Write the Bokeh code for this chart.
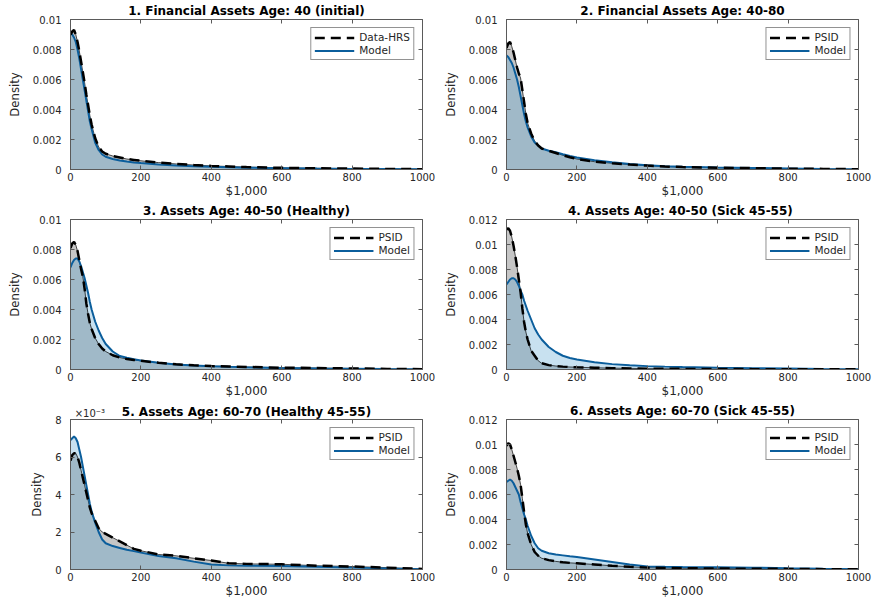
from bokeh.plotting import figure
from bokeh.layouts import gridplot
from bokeh.models import Range1d, FixedTicker, LinearAxis, Legend, LegendItem
from bokeh.embed import file_html
from bokeh.resources import INLINE

# ---------------- data ----------------
X = [0, 5, 10, 15, 20, 25, 30, 35, 40, 45, 50, 55, 60, 70, 80, 90, 100,
     120, 140, 160, 180, 200, 250, 300, 350, 400, 450, 500, 600, 700, 800, 900, 1000]

TITLES = [
    "1. Financial Assets Age: 40 (initial)",
    "2. Financial Assets Age: 40-80",
    "3. Assets Age: 40-50 (Healthy)",
    "4. Assets Age: 40-50 (Sick  45-55)",
    "5. Assets Age: 60-70 (Healthy 45-55)",
    "6. Assets Age: 60-70 (Sick 45-55)",
]
DATA_NAMES = ["Data-HRS", "PSID", "PSID", "PSID", "PSID", "PSID"]
MODEL_NAME = "Model"

data1 = [0.0090, 0.0092, 0.0093, 0.0090, 0.0085, 0.0079, 0.0072, 0.0065, 0.0058, 0.0050, 0.0043, 0.0036, 0.0030,
         0.0021, 0.0015, 0.0012, 0.00105, 0.0009, 0.0008, 0.0007, 0.00064, 0.00058, 0.00046, 0.00037, 0.0003,
         0.00024, 0.0002, 0.00016, 0.00011, 0.00008, 0.00006, 0.00004, 0.00002]
model1 = [0.0091, 0.0090, 0.0088, 0.0085, 0.0080, 0.0074, 0.0067, 0.0060, 0.0053, 0.0046, 0.0039, 0.0032, 0.0027,
          0.0018, 0.0013, 0.0010, 0.00085, 0.0007, 0.0006, 0.00053, 0.00047, 0.00043, 0.00034, 0.00027, 0.00022,
          0.00018, 0.00015, 0.00012, 0.00009, 0.00006, 0.00004, 0.00003, 0.00002]

data2 = [0.0081, 0.0084, 0.0085, 0.0082, 0.0078, 0.0073, 0.0068, 0.0064, 0.0061, 0.0053, 0.0045, 0.0037, 0.0031,
         0.0024, 0.0019, 0.0016, 0.0014, 0.00125, 0.0011, 0.00095, 0.00082, 0.0007, 0.00052, 0.00042, 0.00033,
         0.00026, 0.0002, 0.00016, 0.00012, 0.00009, 0.00006, 0.00004, 0.00002]
model2 = [0.0076, 0.0075, 0.0073, 0.0071, 0.0068, 0.0064, 0.0060, 0.0055, 0.0049, 0.0043, 0.0037, 0.0032, 0.0028,
          0.0022, 0.0018, 0.0016, 0.0014, 0.00125, 0.00115, 0.00102, 0.0009, 0.0008, 0.00062, 0.00048, 0.00036,
          0.00028, 0.00022, 0.00018, 0.00013, 0.0001, 0.00007, 0.00004, 0.00002]

data3 = [0.0081, 0.0084, 0.0085, 0.0083, 0.0079, 0.0073, 0.0067, 0.0062, 0.0054, 0.0044, 0.0037, 0.0031, 0.0027,
         0.0021, 0.0017, 0.0014, 0.0012, 0.00095, 0.0008, 0.0007, 0.00064, 0.00058, 0.00045, 0.00035, 0.00028,
         0.00023, 0.0002, 0.00017, 0.00012, 0.0001, 0.00007, 0.00004, 0.00002]
model3 = [0.0068, 0.0071, 0.0073, 0.0074, 0.0074, 0.0072, 0.0069, 0.0065, 0.0061, 0.0056, 0.0051, 0.0045, 0.0040,
          0.0032, 0.0026, 0.0021, 0.0017, 0.0012, 0.0009, 0.00078, 0.00068, 0.0006, 0.00045, 0.00034, 0.00027,
          0.00022, 0.00018, 0.00015, 0.0001, 0.00007, 0.00005, 0.00003, 0.00002]

data4 = [0.0112, 0.0113, 0.0111, 0.0106, 0.0099, 0.0091, 0.0082, 0.0072, 0.0062, 0.0049, 0.0038, 0.0030, 0.0024,
         0.0015, 0.0011, 0.0007, 0.0005, 0.00035, 0.00028, 0.00023, 0.0002, 0.00018, 0.00014, 0.00011, 0.00009,
         0.00007, 0.00006, 0.00005, 0.00004, 0.00003, 0.00002, 0.00002, 0.00001]
model4 = [0.0068, 0.0070, 0.0072, 0.0073, 0.0073, 0.0072, 0.0070, 0.0067, 0.0063, 0.0060, 0.0055, 0.0051, 0.0047,
          0.0040, 0.0033, 0.0028, 0.0024, 0.0018, 0.0014, 0.0011, 0.00092, 0.0008, 0.00058, 0.00043, 0.00034,
          0.00027, 0.00023, 0.0002, 0.00015, 0.00011, 0.00008, 0.00005, 0.00003]

data5 = [0.0058, 0.0061, 0.0062, 0.0062, 0.0060, 0.0057, 0.0053, 0.0049, 0.0045, 0.0041, 0.0037, 0.0033, 0.0030,
         0.0026, 0.0022, 0.0020, 0.0019, 0.0017, 0.0015, 0.0013, 0.0011, 0.0010, 0.0008, 0.00073, 0.0006,
         0.00048, 0.00033, 0.0003, 0.00028, 0.0002, 0.00016, 0.0001, 0.00003]
model5 = [0.0069, 0.0070, 0.0071, 0.0070, 0.0068, 0.0064, 0.0060, 0.0055, 0.0050, 0.0045, 0.0040, 0.0035, 0.0031,
          0.0025, 0.0020, 0.0016, 0.0014, 0.00125, 0.00115, 0.00105, 0.00098, 0.0009, 0.00072, 0.0006, 0.00042,
          0.00027, 0.00022, 0.0002, 0.00019, 0.00015, 0.0001, 0.00006, 0.00002]

data6 = [0.0099, 0.0101, 0.0100, 0.0096, 0.0091, 0.0086, 0.0081, 0.0075, 0.0068, 0.0057, 0.0046, 0.0036, 0.0029,
         0.0020, 0.0014, 0.0011, 0.0009, 0.00075, 0.00065, 0.00058, 0.00053, 0.0005, 0.0004, 0.0003, 0.00022,
         0.00015, 0.00012, 0.0001, 0.00008, 0.00006, 0.00005, 0.00003, 0.00002]
model6 = [0.0070, 0.0071, 0.0072, 0.0071, 0.0069, 0.0066, 0.0063, 0.0060, 0.0054, 0.0049, 0.0044, 0.0040, 0.0035,
          0.0027, 0.0021, 0.0017, 0.0015, 0.0013, 0.0012, 0.00113, 0.00106, 0.001, 0.0008, 0.0006, 0.0004,
          0.00025, 0.00022, 0.0002, 0.00018, 0.00015, 0.0001, 0.00006, 0.00003]

DATA = [data1, data2, data3, data4, data5, data6]
MODEL = [model1, model2, model3, model4, model5, model6]

Y_MAX = [0.01, 0.01, 0.01, 0.012, 0.008, 0.012]
Y_TICKS_10 = [0, 0.002, 0.004, 0.006, 0.008, 0.01]
Y_LABELS_10 = ["0", "0.002", "0.004", "0.006", "0.008", "0.01"]
Y_TICKS_12 = [0, 0.002, 0.004, 0.006, 0.008, 0.01, 0.012]
Y_LABELS_12 = ["0", "0.002", "0.004", "0.006", "0.008", "0.01", "0.012"]
Y_TICKS_8 = [0, 0.002, 0.004, 0.006, 0.008]
Y_LABELS_8 = ["0", "2", "4", "6", "8"]
Y_TICKS = [Y_TICKS_10, Y_TICKS_10, Y_TICKS_10, Y_TICKS_12, Y_TICKS_8, Y_TICKS_12]
Y_LABELS = [Y_LABELS_10, Y_LABELS_10, Y_LABELS_10, Y_LABELS_12, Y_LABELS_8, Y_LABELS_12]
X_TICKS = [0, 200, 400, 600, 800, 1000]
X_LABEL = "$1,000"
Y_LABEL = "Density"
EXP_LABEL = "×10⁻³"
EXP_AT = 55          # x position (data units) where the exponent marker sits above panel 5

# ---------------- style ----------------
FONT = "DejaVu Sans"
COND_FONT = "DejaVu Sans Condensed, Roboto, sans-serif"
TXT = "#262626"
AX = "#5a5a5a"
DATA_FILL = "#808080"
MODEL_FILL = "#489bcd"
MODEL_LINE = "#0b5e9c"


def mirror_axis(ticks):
    return LinearAxis(ticker=FixedTicker(ticks=ticks), major_label_text_font_size="1px",
                      major_label_text_color=None, major_label_text_alpha=0,
                      major_tick_in=4, major_tick_out=0, major_label_standoff=0,
                      axis_line_color=None, major_tick_line_color=AX, minor_tick_line_color=None)


def style_title(t):
    t.text_font = FONT
    t.text_font_size = "12px"
    t.text_font_style = "bold"
    t.text_color = "black"
    t.align = "center"
    t.standoff = 3
    t.offset = 0


def make_panel(i):
    has_exp = (i == 4)
    kw = dict(width=436, height=200, output_backend="svg", toolbar_location=None,
              x_range=Range1d(0, 1000), y_range=Range1d(0, Y_MAX[i]),
              min_border_left=70, min_border_right=14, min_border_top=19, min_border_bottom=30)
    if has_exp:
        p = figure(title=None, **kw)
    else:
        p = figure(title=TITLES[i], **kw)
        style_title(p.title)
    p.xgrid.visible = False
    p.ygrid.visible = False
    p.outline_line_color = AX
    p.background_fill_color = "white"

    xa = p.xaxis[0]
    xa.ticker = FixedTicker(ticks=X_TICKS)
    xa.axis_label = X_LABEL
    ya = p.yaxis[0]
    ya.ticker = FixedTicker(ticks=Y_TICKS[i])
    ya.major_label_overrides = {t: l for t, l in zip(Y_TICKS[i], Y_LABELS[i])}
    ya.axis_label = Y_LABEL
    for a in (xa, ya):
        a.axis_line_color = AX
        a.major_tick_in = 4
        a.major_tick_out = 0
        a.major_tick_line_color = AX
        a.minor_tick_line_color = None
        a.major_label_text_font = FONT
        a.major_label_text_font_size = "10px"
        a.major_label_text_color = TXT
        a.axis_label_text_color = TXT
        a.axis_label_text_font_style = "normal"
    xa.major_label_standoff = 3
    xa.axis_label_text_font = FONT
    xa.axis_label_text_font_size = "12px"
    xa.axis_label_standoff = 0
    ya.major_label_standoff = 9
    ya.axis_label_text_font = COND_FONT
    ya.axis_label_text_font_size = "13px"
    ya.axis_label_standoff = 8

    # mirrored inward ticks on top and right (no labels)
    p.add_layout(mirror_axis(X_TICKS), "above")
    p.add_layout(mirror_axis(Y_TICKS[i]), "right")

    if has_exp:
        # top text row of panel 5: exponent marker at left, panel title centred on the same line
        top = LinearAxis(ticker=FixedTicker(ticks=[EXP_AT]),
                         major_label_overrides={EXP_AT: EXP_LABEL},
                         major_label_text_font=FONT, major_label_text_font_size="10px",
                         major_label_text_color=TXT, major_label_standoff=1,
                         major_tick_line_color=None, minor_tick_line_color=None,
                         axis_line_color=None, major_tick_in=0, major_tick_out=0,
                         axis_label=TITLES[i], axis_label_text_font=FONT,
                         axis_label_text_font_size="12px", axis_label_text_font_style="bold",
                         axis_label_text_color="black", axis_label_standoff=-14)
        p.add_layout(top, "above")

    p.varea(x=X, y1=0, y2=DATA[i], fill_color=DATA_FILL, fill_alpha=0.45)
    p.varea(x=X, y1=0, y2=MODEL[i], fill_color=MODEL_FILL, fill_alpha=0.3)
    p.line(X, DATA[i], line_color="black", line_width=0.7)
    r_model = p.line(X, MODEL[i], line_color=MODEL_LINE, line_width=2)
    r_data = p.line(X, DATA[i], line_color="black", line_width=2.5, line_dash="10 6")

    leg = Legend(items=[LegendItem(label=DATA_NAMES[i], renderers=[r_data]),
                        LegendItem(label=MODEL_NAME, renderers=[r_model])],
                 location="top_right")
    leg.label_text_font = FONT
    leg.label_text_font_size = "10.5px"
    leg.label_text_color = TXT
    leg.glyph_width = 40
    leg.glyph_height = 11
    leg.label_height = 11
    leg.label_standoff = 5
    leg.spacing = 1
    leg.padding = 3
    leg.margin = 8
    leg.border_line_color = "#262626"
    leg.border_line_width = 1
    leg.background_fill_alpha = 1
    p.add_layout(leg)
    return p


panels = [make_panel(i) for i in range(6)]
grid = gridplot([[panels[0], panels[1]], [panels[2], panels[3]], [panels[4], panels[5]]],
                toolbar_location=None)

open("out.html", "w").write(file_html(grid, INLINE))
